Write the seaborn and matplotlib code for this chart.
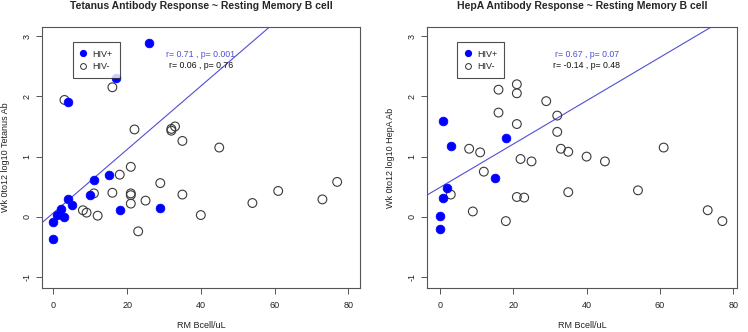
import matplotlib
matplotlib.use("Agg")
import matplotlib.pyplot as plt
from matplotlib.lines import Line2D
import seaborn as sns
import pandas as pd

sns.set_style("white")
plt.rcParams["font.family"] = ["Liberation Sans", "DejaVu Sans"]

# ---- Tetanus panel data ----
tet_pos_x = [26, 17, 4, 11, 15, 10, 4, 5, 2, 1, 3, 0, 0, 18, 29]
tet_pos_y = [2.88, 2.31, 1.90, 0.61, 0.69, 0.37, 0.30, 0.19, 0.13, 0.03, 0.0, -0.08, -0.36, 0.12, 0.14]
tet_neg_x = [3, 16, 22, 32, 32, 33, 35, 45, 21, 18, 29, 77, 61, 11, 16, 21, 21, 35, 73, 25, 21, 54, 8, 9, 12, 40, 23]
tet_neg_y = [1.94, 2.15, 1.45, 1.43, 1.46, 1.50, 1.26, 1.15, 0.83, 0.70, 0.56, 0.58, 0.43, 0.39, 0.40, 0.39, 0.36, 0.37, 0.29, 0.27, 0.22, 0.23, 0.11, 0.07, 0.02, 0.03, -0.24]
tet_fit = (0.066, 0.0526)   # intercept, slope of HIV+ fit
tet_stats = ["r= 0.71 , p= 0.001", "r= 0.06 , p= 0.76"]

# ---- HepA panel data ----
hep_pos_x = [1, 3, 18, 2, 1, 0, 0, 15]
hep_pos_y = [1.59, 1.17, 1.31, 0.48, 0.32, 0.01, -0.20, 0.65]
hep_neg_x = [16, 21, 21, 29, 16, 21, 32, 32, 8, 11, 33, 35, 40, 61, 22, 25, 45, 12, 3, 21, 23, 35, 54, 9, 18, 73, 77]
hep_neg_y = [2.11, 2.20, 2.05, 1.92, 1.73, 1.54, 1.68, 1.41, 1.13, 1.07, 1.13, 1.08, 1.00, 1.15, 0.96, 0.92, 0.92, 0.75, 0.37, 0.33, 0.32, 0.41, 0.44, 0.09, -0.07, 0.11, -0.07]
hep_fit = (0.487, 0.036)
hep_stats = ["r= 0.67 , p= 0.07", "r= -0.14 , p= 0.48"]

titles = ["Tetanus Antibody Response ~ Resting Memory B cell",
          "HepA Antibody Response ~ Resting Memory B cell"]
ylabels = ["Wk 0to12 log10 Tetanus Ab", "Wk 0to12 log10 HepA Ab"]
xlabel = "RM Bcell/uL"
xticks = [0, 20, 40, 60, 80]
yticks = [-1, 0, 1, 2, 3]

BLUE = "#0000ff"
LINEBLUE = "#4f4fd4"

fig = plt.figure(figsize=(7.48, 3.32), dpi=100)
axes = [fig.add_axes([42 / 748, 44 / 332, 318 / 748, 261 / 332]),
        fig.add_axes([427.3 / 748, 44 / 332, 309.4 / 748, 261 / 332])]
xlims = [(-3.1, 83.2), (-3.4, 80.9)]

panels = [
    (tet_pos_x, tet_pos_y, tet_neg_x, tet_neg_y, tet_fit, tet_stats),
    (hep_pos_x, hep_pos_y, hep_neg_x, hep_neg_y, hep_fit, hep_stats),
]
stat_x = [0.50, 0.515]

for i, (ax, (px, py, nx, ny, fit, stats)) in enumerate(zip(axes, panels)):
    neg = pd.DataFrame({"x": nx, "y": ny})
    pos = pd.DataFrame({"x": px, "y": py})
    sns.scatterplot(data=neg, x="x", y="y", ax=ax, s=40, facecolor="none",
                    edgecolor="#3a3a3a", linewidth=0.8, zorder=3, legend=False)
    sns.scatterplot(data=pos, x="x", y="y", ax=ax, s=40, color=BLUE,
                    edgecolor=BLUE, linewidth=0.5, zorder=4, legend=False)
    ax.axline((0, fit[0]), slope=fit[1], color=LINEBLUE, lw=0.8, zorder=2)

    ax.set_xlim(*xlims[i])
    ax.set_ylim(-1.18, 3.15)
    ax.set_xticks(xticks)
    ax.set_yticks(yticks)
    ax.set_xticklabels([str(t) for t in xticks], fontsize=6.5, color="#222222")
    ax.set_yticklabels([str(t) for t in yticks], fontsize=6.5, color="#222222",
                       rotation=90, va="center")
    ax.tick_params(axis="x", direction="out", length=4, width=0.7,
                   color="#555555", bottom=True, pad=5)
    ax.tick_params(axis="y", direction="out", length=4, width=0.7,
                   color="#555555", left=True, pad=3.7)
    for sp in ax.spines.values():
        sp.set_color("#555555")
        sp.set_linewidth(0.8)
    ax.set_xlabel(xlabel, fontsize=6.5, color="#222222", labelpad=8)
    ax.set_ylabel(ylabels[i], fontsize=6.5, color="#222222", labelpad=9)
    ax.set_title(titles[i], fontsize=7.5, fontweight="bold", pad=13)

    ax.text(stat_x[i], 0.893, stats[0], transform=ax.transAxes, ha="center",
            va="center", fontsize=6.3, color=LINEBLUE)
    ax.text(stat_x[i], 0.852, stats[1], transform=ax.transAxes, ha="center",
            va="center", fontsize=6.3, color="#111111")

    handles = [Line2D([], [], marker="o", ls="none", markersize=4.2,
                      markerfacecolor=BLUE, markeredgecolor=BLUE),
               Line2D([], [], marker="o", ls="none", markersize=4.2,
                      markerfacecolor="none", markeredgecolor="#333333",
                      markeredgewidth=0.7)]
    leg = ax.legend(handles, ["HIV+", "HIV-"], loc="upper left",
                    bbox_to_anchor=(0.096, 0.941), borderaxespad=0,
                    fontsize=6.5, frameon=True, fancybox=False,
                    handlelength=0.8, handletextpad=0.6, borderpad=0.8,
                    labelspacing=0.35)
    leg.get_frame().set_edgecolor("#222222")
    leg.get_frame().set_linewidth(0.8)

fig.savefig("out.png", dpi=100)
